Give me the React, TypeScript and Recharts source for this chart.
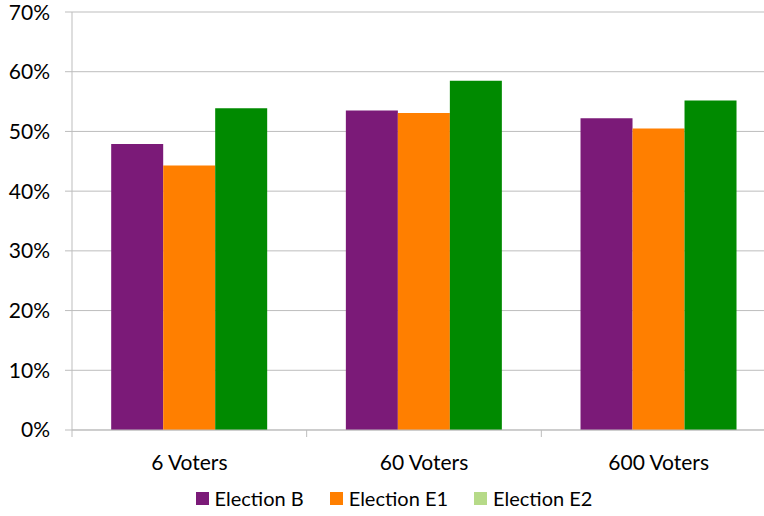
import React from 'react';
import { BarChart, Bar, XAxis, YAxis, CartesianGrid, Legend } from 'recharts';

// Share of votes per election, grouped by electorate size
const categories = ['6 Voters', '60 Voters', '600 Voters'];
const electionB = [0.479, 0.535, 0.522];
const electionE1 = [0.443, 0.531, 0.505];
const electionE2 = [0.539, 0.585, 0.552];
const yTicks = [0, 0.1, 0.2, 0.3, 0.4, 0.5, 0.6, 0.7];

const SERIES = [
    { key: 'b', name: 'Election B', fill: '#7b1a78', swatch: '#7b1a78' },
    { key: 'e1', name: 'Election E1', fill: '#ff7f00', swatch: '#ff7f00' },
    { key: 'e2', name: 'Election E2', fill: '#008a00', swatch: '#b6da88' },
];

const data = categories.map((name, i) => ({
    name,
    b: electionB[i],
    e1: electionE1[i],
    e2: electionE2[i],
}));

const FONT = 'Lato, "Open Sans", sans-serif';
const AXIS_GREY = '#bdbdbd';
const TEXT = '#000';

const pct = (v: number) => `${Math.round(v * 100)}%`;

// category label plus a small tick mark on the left boundary of each band
const CategoryTick = (props: any) => {
    const { x, y, payload } = props;
    const half = payload && typeof payload.offset === 'number' ? payload.offset : 0;
    return (
        <g>
            {half > 0 && (
                <line x1={x - half} x2={x - half} y1={y} y2={y + 7} stroke={AXIS_GREY} strokeWidth={1} />
            )}
            <text x={x} y={y + 40} textAnchor="middle" fill={TEXT} fontSize={21} fontFamily={FONT}>
                {payload.value}
            </text>
        </g>
    );
};

const LegendContent = () => (
    <div
        style={{
            display: 'flex',
            justifyContent: 'center',
            alignItems: 'center',
            height: 36,
            gap: 26,
            paddingLeft: 12,
            fontFamily: FONT,
            fontSize: 20,
            color: TEXT,
        }}
    >
        {SERIES.map((s) => (
            <div key={s.key} style={{ display: 'flex', alignItems: 'center' }}>
                <span style={{ width: 13, height: 13, background: s.swatch, marginRight: 6, display: 'inline-block' }} />
                <span>{s.name}</span>
            </div>
        ))}
    </div>
);

export default function App() {
    return (
        <div style={{ position: 'absolute', left: 0, top: 0, width: 764, height: 516, overflow: 'hidden', background: '#fff' }}>
            <BarChart
                width={776}
                height={516}
                data={data}
                margin={{ top: 12, right: 0, bottom: 0, left: 0 }}
                barCategoryGap="16.7%"
                barGap={0}
            >
                <CartesianGrid vertical={false} stroke={AXIS_GREY} strokeWidth={1} />
                <XAxis
                    dataKey="name"
                    height={50}
                    tickSize={0}
                    tickMargin={0}
                    tickLine={false}
                    axisLine={{ stroke: AXIS_GREY }}
                    tick={<CategoryTick />}
                    interval={0}
                />
                <YAxis
                    width={72}
                    domain={[0, 0.7]}
                    ticks={yTicks}
                    tickFormatter={pct}
                    tickSize={7}
                    tickMargin={15}
                    tickLine={{ stroke: AXIS_GREY }}
                    axisLine={{ stroke: AXIS_GREY }}
                    tick={{ fill: TEXT, fontSize: 21, fontFamily: FONT }}
                />
                <Legend verticalAlign="bottom" content={<LegendContent />} wrapperStyle={{ height: 36 }} />
                {SERIES.map((s) => (
                    <Bar key={s.key} dataKey={s.key} name={s.name} fill={s.fill} isAnimationActive={false} />
                ))}
            </BarChart>
        </div>
    );
}
